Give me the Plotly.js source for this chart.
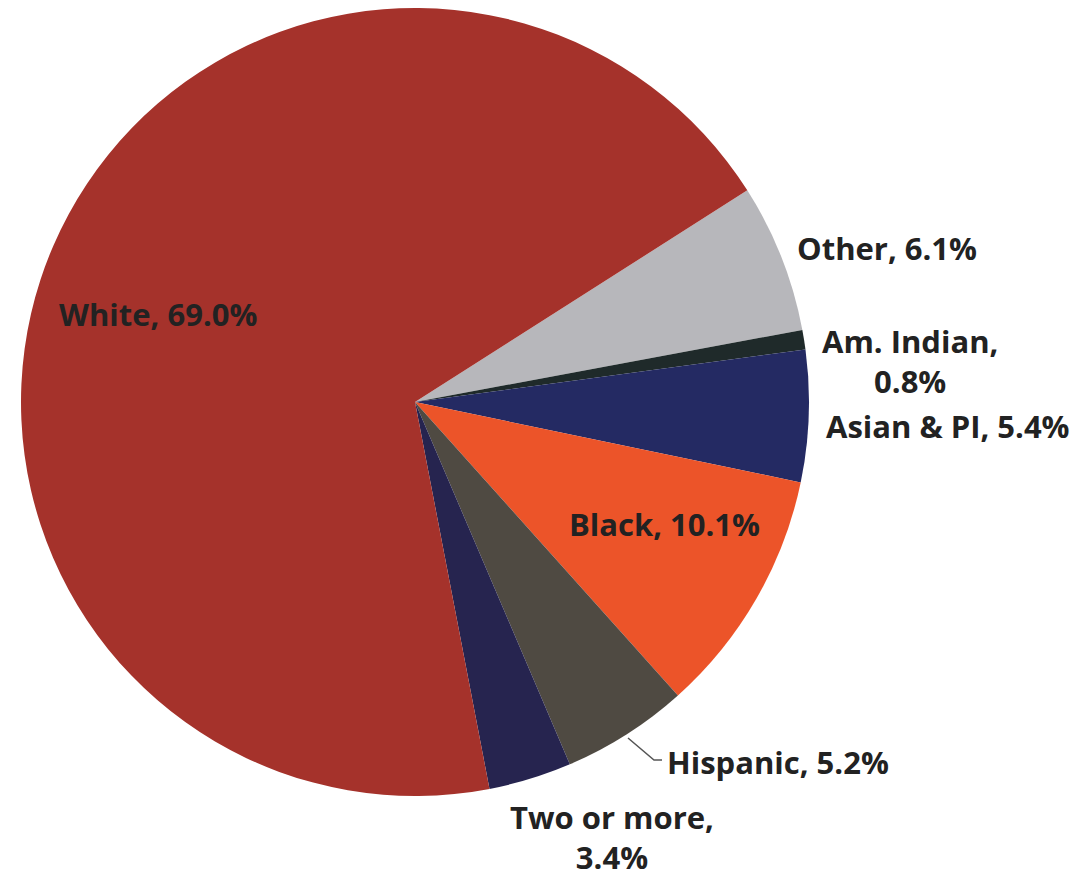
<!DOCTYPE html>
<html>
<head>
<meta charset="utf-8">
<script src="https://cdn.plot.ly/plotly-3.0.1.min.js"></script>
<style>html,body{margin:0;padding:0;background:#fff;}#chart{width:1080px;height:880px;}</style>
</head>
<body>
<div id="chart"></div>
<script>
// Data
var categories = ["Other", "Am. Indian", "Asian & PI", "Black", "Hispanic", "Two or more", "White"];
var shares = [6.1, 0.8, 5.4, 10.1, 5.2, 3.4, 69.0];
var sliceColors = ["#b7b7bb", "#1f2a2a", "#242a63", "#ec5429", "#4f4a42", "#26244f", "#a5322b"];

// Label layout (pixel centres in a 1080x880 page) and line breaks
var labelBreak = {"Am. Indian": true, "Two or more": true};
var labelPos = {
  "Other": [887, 248],
  "Am. Indian": [910, 361],
  "Asian & PI": [948, 426],
  "Black": [664, 524],
  "Hispanic": [778, 762],
  "Two or more": [612, 837],
  "White": [158, 314]
};

var W = 1080, H = 880;
function fx(px) { return px / W; }
function fy(py) { return 1 - py / H; }

var cx = 415, cy = 402, R = 394;

var annotations = categories.map(function (c, i) {
  var txt = c + "," + (labelBreak[c] ? "<br>" : " ") + shares[i].toFixed(1) + "%";
  var p = labelPos[c];
  return {
    x: fx(p[0]), y: fy(p[1]), xref: "paper", yref: "paper",
    xanchor: "center", yanchor: "middle",
    text: txt, showarrow: false,
    font: {family: "'Open Sans', Lato, sans-serif", size: 31, color: "#222222", weight: "bold"}
  };
});

var data = [{
  type: "pie",
  labels: categories,
  values: shares,
  sort: false,
  direction: "clockwise",
  rotation: 57.5,
  marker: {colors: sliceColors, line: {width: 0}},
  textinfo: "none",
  hoverinfo: "label+percent",
  showlegend: false,
  domain: {x: [fx(cx - R), fx(cx + R)], y: [fy(cy + R), fy(cy - R)]}
}];

var layout = {
  width: W, height: H,
  margin: {l: 0, r: 0, t: 0, b: 0},
  paper_bgcolor: "#ffffff",
  showlegend: false,
  annotations: annotations,
  shapes: [{
    type: "path", xref: "paper", yref: "paper",
    path: "M " + fx(628) + " " + fy(738) + " L " + fx(654) + " " + fy(760) + " L " + fx(662) + " " + fy(760),
    line: {color: "#555555", width: 1.5}
  }]
};

Plotly.newPlot("chart", data, layout, {displayModeBar: false, staticPlot: true});
</script>
</body>
</html>
